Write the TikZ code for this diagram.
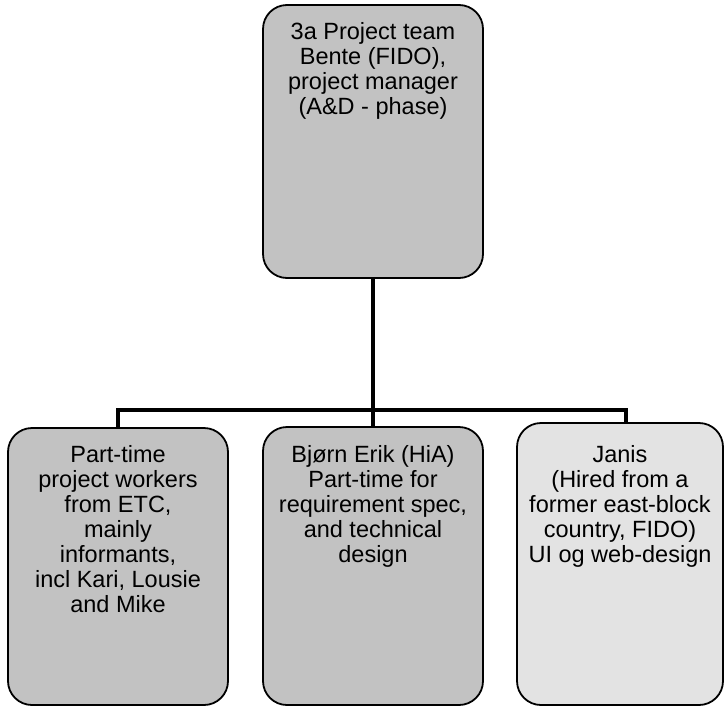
\documentclass[tikz,border=0pt]{standalone}
\usepackage{fontspec}
\setmainfont{Liberation Sans}
\begin{document}
\begin{tikzpicture}[x=1pt,y=-1pt,
  box/.style={draw=black,line width=1.8pt,rounded corners=24pt,fill=black!24,inner sep=0pt},
  lightbox/.style={box,fill=black!11},
  txt/.style={anchor=north,align=center,inner sep=0pt,font=\fontsize{23.5}{25}\selectfont},
  conn/.style={line width=4.5pt}]
\useasboundingbox (0,0) rectangle (725,707);
% boxes
\node[box,minimum width=220pt,minimum height=273pt] (top) at (373,141.5) {};
\node[box,minimum width=220pt,minimum height=277pt] (left) at (118,566.5) {};
\node[box,minimum width=220pt,minimum height=278pt] (mid) at (373,566) {};
\node[lightbox,minimum width=206pt,minimum height=282pt] (right) at (620,564) {};
% texts
\node[txt] (toptxt) at (373,22.5) {3a Project team\\Bente (FIDO),\\project manager\\(A\&D - phase)};
\node[txt] (lefttxt) at (118,445.5) {Part-time\\project workers\\from ETC,\\mainly\\informants,\\incl Kari, Lousie\\and Mike};
\node[txt] (midtxt) at (373,445.5) {Bjørn Erik (HiA)\\Part-time for\\requirement spec,\\and technical\\design};
\node[txt] (righttxt) at (620,445.5) {Janis\\(Hired from a\\former east-block\\country, FIDO)\\UI og web-design};
% connectors
\coordinate (bar) at (373,410);
\coordinate (barL) at (118,410);
\coordinate (barR) at (626,410);
\draw[conn] (top.south) -- (bar);
\draw[conn,line cap=rect] (barL) -- (barR);
\draw[conn] (barL) -- (left.north);
\draw[conn] (bar) -- (mid.north);
\draw[conn] (barR) -- (barR |- right.north);
\end{tikzpicture}
\end{document}
